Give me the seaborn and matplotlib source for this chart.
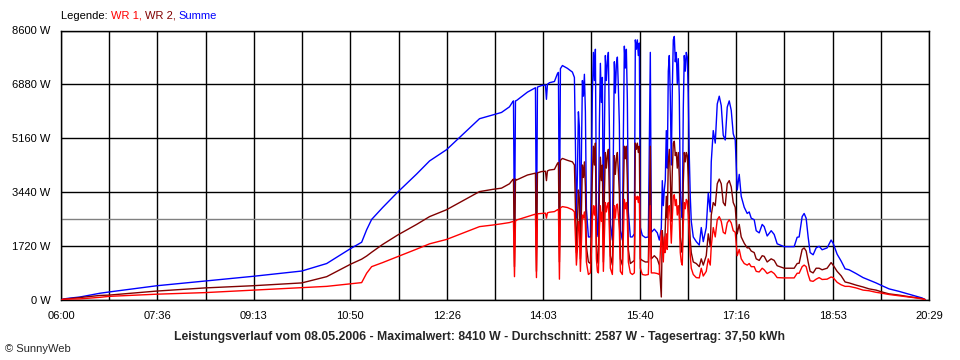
import numpy as np
import pandas as pd
import matplotlib
matplotlib.use("Agg")
import matplotlib.pyplot as plt
import seaborn as sns

# minutes after 06:00, power of both inverters in W
minuten = [1, 3, 9, 19, 39, 48, 96, 144, 192, 241, 266, 290, 301, 306, 311, 322, 337, 356, 369, 386,
           402, 419, 432, 441, 449, 452, 453, 454, 455, 456, 467, 474, 475, 476, 477, 481, 485, 486, 487, 489,
           494, 497, 498, 499, 500, 502, 507, 512,
           514, 515, 516, 517, 518, 519, 520, 521, 522, 523, 524, 525, 526, 528, 530,
           531, 532, 533, 534, 535, 536, 537, 538, 539, 540, 541, 542, 543, 544, 545, 546, 547, 548, 549, 550,
           552, 553, 554, 555, 556, 557, 558, 559, 560, 562, 563, 564, 565, 566, 567, 568, 570, 572, 574,
           575, 576, 577, 578, 579, 580, 582, 585, 588, 590, 591, 594, 597, 599,
           601, 602, 603, 604, 605, 606, 607, 608, 609, 610, 611, 612, 613, 614, 615, 616, 617, 618, 619, 620,
           621, 622, 623, 624, 625, 626, 627, 628, 629, 630, 631, 633, 636, 639,
           641, 643, 646, 648, 650, 651, 653, 655, 657, 659,
           661, 663, 665, 667, 669, 671, 673, 675, 677, 679, 681, 684, 687, 689, 691, 694, 696, 699, 702, 704,
           707, 711, 714, 717, 724, 734, 737, 739, 742, 744, 746, 748, 750, 753, 756, 759, 762, 767, 771, 773,
           777, 781, 785, 789, 796, 803, 809, 816, 822, 829, 839, 849, 856, 862, 865]
wr1 = [0, 10, 15, 20, 70, 100, 170, 220, 300, 380, 420, 500, 540, 840, 1050, 1180, 1370, 1610, 1780, 1920,
       2120, 2330, 2380, 2420, 2460, 2490, 2500, 730, 2500, 2540, 2650, 2720, 2730, 700, 2740, 2750, 2760, 2600, 2770, 2790,
       2810, 2870, 2880, 650, 2930, 2970, 2940, 2870,
       2800, 2000, 1100, 1600, 2500, 2300, 900, 1800, 2700, 2600, 2800, 2400, 1200, 800, 850,
       1500, 2600, 3000, 2700, 3000, 1300, 900, 850, 2200, 3000, 2500, 2800, 900, 2000, 3100, 2800, 3000, 3100, 2200, 1000,
       800, 1800, 3000, 2600, 3000, 3050, 2700, 2200, 900, 800, 2000, 3200, 2900, 3100, 2600, 1200, 850, 800, 850,
       3300, 3200, 3300, 3100, 3300, 1000, 800, 780, 800, 3000, 850, 850, 830, 800,
       2200, 1600, 1200, 2000, 1500, 2100, 1600, 2900, 3000, 2600, 1800, 2600, 3300, 3350, 3000, 3200, 2700, 3000, 2600, 1500,
       1200, 1100, 2400, 3100, 2900, 3200, 3150, 2700, 2000, 1400, 1000, 800, 700, 690,
       1000, 750, 900, 1300, 1100, 1700, 2300, 2000, 2550, 2650,
       2500, 2150, 2100, 2450, 2550, 2450, 2200, 2150, 1400, 1600, 1300, 1150, 1100, 1150, 1050, 1050, 900, 880, 1000, 950,
       830, 900, 830, 700, 690, 690, 840, 840, 1050, 1100, 1050, 800, 600, 580, 650, 700, 640, 650, 720, 700,
       550, 470, 420, 420, 370, 300, 280, 230, 200, 160, 120, 80, 50, 20, 0]
wr2 = [0, 10, 30, 60, 130, 140, 270, 370, 440, 530, 730, 1130, 1290, 1390, 1510, 1760, 2060, 2400, 2650, 2870,
       3150, 3450, 3520, 3560, 3700, 3820, 3850, 1050, 3850, 3820, 3980, 4030, 4040, 900, 4050, 4090, 4100, 3800, 4110, 4140,
       4160, 4350, 4380, 1200, 4450, 4510, 4450, 4400,
       4300, 3000, 1500, 2400, 3500, 3200, 1300, 2800, 4300, 3900, 4400, 3600, 1700, 1200, 1150,
       2500, 4000, 4900, 4300, 5000, 1800, 1300, 1150, 3400, 4550, 3800, 4300, 1200, 3300, 4700, 4200, 4600, 4800, 3300, 1400,
       1100, 2900, 4600, 4000, 4500, 4700, 4100, 3400, 1300, 1100, 3200, 4900, 4500, 4900, 3800, 1600, 1150, 1200, 1250,
       5000, 4800, 5000, 4700, 4900, 1300, 1250, 1200, 1200, 4900, 1300, 1400, 1300, 1100,
       80, 2200, 1800, 1500, 2300, 3300, 2600, 4400, 4800, 3900, 2500, 4100, 5000, 5060, 4600, 4700, 4200, 4700, 3900, 2000,
       1700, 1500, 3700, 4700, 4400, 4700, 4600, 3900, 2600, 1900, 1500, 1200, 1150, 1050,
       1300, 1100, 1400, 2100, 1700, 2700, 3100, 3000, 3700, 3850,
       3700, 3100, 3000, 3700, 3800, 3600, 3100, 2950, 2100, 2400, 2000, 1800, 1650, 1650, 1550, 1500, 1300, 1250, 1400, 1380,
       1200, 1300, 1250, 1080, 1000, 1000, 1150, 1160, 1600, 1650, 1550, 1200, 900, 850, 1000, 1000, 950, 1000, 1180, 1100,
       900, 760, 560, 530, 460, 400, 340, 300, 240, 180, 140, 90, 60, 30, 0]
assert len(minuten) == len(wr1) == len(wr2)
summe = [a + b for a, b in zip(wr1, wr2)]

durchschnitt = 2587
y_werte = [0, 1720, 3440, 5160, 6880, 8600]
y_labels = ["0 W", "1720 W", "3440 W", "5160 W", "6880 W", "8600 W"]
x_labels = ["06:00", "07:36", "09:13", "10:50", "12:26", "14:03", "15:40", "17:16", "18:53", "20:29"]
titel = ("Leistungsverlauf vom 08.05.2006 - Maximalwert: 8410 W - Durchschnitt: 2587 W"
         " - Tagesertrag: 37,50 kWh")

n = len(minuten)
df = pd.DataFrame({
    "minute": minuten * 3,
    "leistung": summe + wr2 + wr1,
    "serie": ["Summe"] * n + ["WR 2"] * n + ["WR 1"] * n,
})
farben = {"WR 1": "#ff0000", "WR 2": "#800000", "Summe": "#0000ff"}

sns.set_style("white")
plt.rcParams['font.family'] = ['Liberation Sans', 'DejaVu Sans']

fig = plt.figure(figsize=(9.6, 3.6), dpi=100)
ax = fig.add_axes([61 / 960, 60.5 / 360, 868 / 960, 269 / 360])

sns.lineplot(data=df, x="minute", y="leistung", hue="serie", hue_order=["Summe", "WR 2", "WR 1"],
             palette=farben, estimator=None, lw=1.0, legend=False, ax=ax, zorder=3)
ax.axhline(durchschnitt, color="#808080", lw=1.0, zorder=2)

ax.set_xlim(0, 869)
ax.set_ylim(0, 8600)
raster = np.linspace(0, 869, 19)
ax.set_xticks(raster[::2])
ax.set_xticklabels(x_labels)
ax.set_xticks(raster, minor=True)
ax.set_yticks(y_werte)
ax.set_yticklabels(y_labels)
ax.grid(True, which="both", axis="x", color="black", lw=1.0, zorder=1)
ax.grid(True, which="major", axis="y", color="black", lw=1.0, zorder=1)
ax.set_axisbelow(True)
ax.tick_params(axis="both", which="both", direction="out", length=4.5, width=1.0,
               color="black", labelsize=8, labelcolor="black", pad=3)
ax.tick_params(axis="x", which="major", pad=4)
for s in ax.spines.values():
    s.set_visible(True)
    s.set_color("black")
    s.set_linewidth(1.0)
ax.set_xlabel("")
ax.set_ylabel("")

# legend line at the top: coloured words next to each other
renderer = fig.canvas.get_renderer()
x_pos = 61
for wort, farbe in [("Legende: ", "black"), ("WR 1, ", farben["WR 1"]),
                    ("WR 2, ", farben["WR 2"]), ("Summe", farben["Summe"])]:
    t = fig.text(x_pos / 960, 1 - 16 / 360, wort, color=farbe, fontsize=8, ha="left", va="center")
    bb = t.get_window_extent(renderer)
    x_pos = bb.x1

fig.text(0.5, 1 - 337 / 360, titel, ha="center", va="center", fontsize=8.8, fontweight="bold")
fig.text(5 / 960, 1 - 349 / 360, "\u00a9 SunnyWeb", ha="left", va="center", fontsize=8)

fig.savefig("out.png", dpi=100)
